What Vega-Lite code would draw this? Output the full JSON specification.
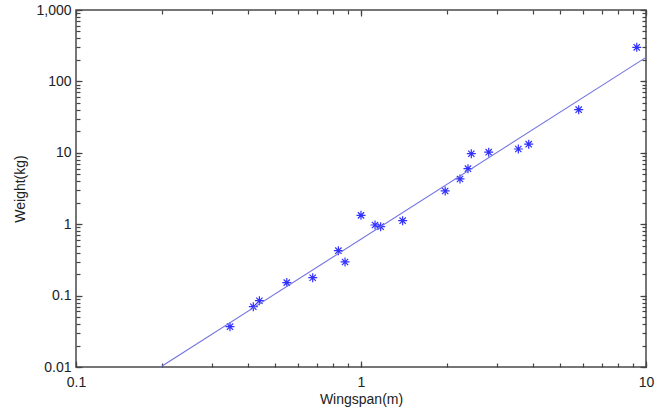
{
  "$schema": "https://vega.github.io/schema/vega-lite/v6.json",
  "width": 570,
  "height": 357,
  "autosize": "none",
  "padding": {"left": 76, "top": 10, "right": 9, "bottom": 45},
  "background": "white",
  "config": {
    "view": {"stroke": "#4a4a4a", "strokeWidth": 1.5},
    "axis": {
      "labelFont": "Liberation Sans",
      "titleFont": "Liberation Sans",
      "labelFontSize": 14,
      "titleFontSize": 14,
      "titleFontWeight": "normal",
      "labelColor": "#222222",
      "titleColor": "#222222",
      "domain": false,
      "grid": false
    }
  },
  "datasets": {
    "birds": [
      {"wingspan": 0.347, "weight": 0.0367},
      {"wingspan": 0.419, "weight": 0.0699},
      {"wingspan": 0.44, "weight": 0.0848},
      {"wingspan": 0.549, "weight": 0.152},
      {"wingspan": 0.677, "weight": 0.178},
      {"wingspan": 0.833, "weight": 0.426},
      {"wingspan": 0.879, "weight": 0.296},
      {"wingspan": 1.0, "weight": 1.33},
      {"wingspan": 1.12, "weight": 0.975},
      {"wingspan": 1.172, "weight": 0.923},
      {"wingspan": 1.4, "weight": 1.12},
      {"wingspan": 1.974, "weight": 2.92},
      {"wingspan": 2.225, "weight": 4.3},
      {"wingspan": 2.373, "weight": 5.99},
      {"wingspan": 2.438, "weight": 9.71},
      {"wingspan": 2.806, "weight": 10.2},
      {"wingspan": 3.565, "weight": 11.3},
      {"wingspan": 3.877, "weight": 13.2},
      {"wingspan": 5.805, "weight": 40.2},
      {"wingspan": 9.28, "weight": 300}
    ],
    "fit": [
      {"wingspan": 0.198, "weight": 0.01},
      {"wingspan": 10, "weight": 217}
    ]
  },
  "layer": [
    {
      "data": {"name": "birds"},
      "mark": {
        "type": "point",
        "shape": "M-1,0L1,0M0,-1L0,1M-0.7,-0.7L0.7,0.7M-0.7,0.7L0.7,-0.7",
        "filled": false,
        "stroke": "#3030ff",
        "strokeWidth": 1.2,
        "size": 81,
        "opacity": 1
      },
      "encoding": {
        "x": {
          "field": "wingspan",
          "type": "quantitative",
          "scale": {"type": "log", "domain": [0.1, 10], "nice": false},
          "axis": {
            "orient": "bottom",
            "offset": -4,
            "title": "Wingspan(m)",
            "values": [0.1, 0.2, 0.3, 0.4, 0.5, 0.6, 0.7, 0.8, 0.9, 1, 2, 3, 4, 5, 6, 7, 8, 9, 10],
            "labelExpr": "indexof([0.1, 1, 10], datum.value) >= 0 ? format(datum.value, ',~g') : ''",
            "labelOverlap": false,
            "labelFlush": false,
            "labelPadding": 8,
            "ticks": true,
            "tickColor": "#444444",
            "tickWidth": 1.2,
            "tickOpacity": 1,
            "tickSize": 4,
            "titlePadding": 3
          }
        },
        "y": {
          "field": "weight",
          "type": "quantitative",
          "scale": {"type": "log", "domain": [0.01, 1000], "nice": false},
          "axis": {
            "orient": "left",
            "offset": -4,
            "title": "Weight(kg)",
            "values": [0.01, 0.02, 0.03, 0.04, 0.05, 0.06, 0.07, 0.08, 0.09, 0.1, 0.2, 0.3, 0.4, 0.5, 0.6, 0.7, 0.8, 0.9, 1, 2, 3, 4, 5, 6, 7, 8, 9, 10, 20, 30, 40, 50, 60, 70, 80, 90, 100, 200, 300, 400, 500, 600, 700, 800, 900, 1000],
            "labelExpr": "indexof([0.01, 0.1, 1, 10, 100, 1000], datum.value) >= 0 ? format(datum.value, ',~g') : ''",
            "labelOverlap": false,
            "labelFlush": false,
            "labelPadding": 5,
            "ticks": true,
            "tickColor": "#444444",
            "tickWidth": 1.2,
            "tickOpacity": 1,
            "tickSize": 4,
            "titlePadding": 8
          }
        }
      }
    },
    {
      "data": {"name": "fit"},
      "mark": {"type": "line", "color": "#7272e0", "strokeWidth": 1.1},
      "encoding": {
        "x": {
          "field": "wingspan",
          "type": "quantitative",
          "scale": {"type": "log", "domain": [0.1, 10], "nice": false},
          "axis": {
            "orient": "top",
            "offset": -4,
            "title": null,
            "labels": false,
            "values": [0.1, 0.2, 0.3, 0.4, 0.5, 0.6, 0.7, 0.8, 0.9, 1, 2, 3, 4, 5, 6, 7, 8, 9, 10],
            "ticks": true,
            "tickColor": "#444444",
            "tickWidth": 1.2,
            "tickOpacity": 1,
            "tickSize": 4
          }
        },
        "y": {
          "field": "weight",
          "type": "quantitative",
          "scale": {"type": "log", "domain": [0.01, 1000], "nice": false},
          "axis": {
            "orient": "right",
            "offset": -4,
            "title": null,
            "labels": false,
            "values": [0.01, 0.02, 0.03, 0.04, 0.05, 0.06, 0.07, 0.08, 0.09, 0.1, 0.2, 0.3, 0.4, 0.5, 0.6, 0.7, 0.8, 0.9, 1, 2, 3, 4, 5, 6, 7, 8, 9, 10, 20, 30, 40, 50, 60, 70, 80, 90, 100, 200, 300, 400, 500, 600, 700, 800, 900, 1000],
            "ticks": true,
            "tickColor": "#444444",
            "tickWidth": 1.2,
            "tickOpacity": 1,
            "tickSize": 4
          }
        }
      }
    },
    {
      "data": {"name": "fit"},
      "mark": {"type": "point", "opacity": 0},
      "encoding": {
        "x": {
          "field": "wingspan",
          "type": "quantitative",
          "scale": {"type": "log", "domain": [0.1, 10], "nice": false},
          "axis": {"orient": "bottom", "offset": -6, "title": null, "labels": false, "values": [0.1, 1, 10], "ticks": true, "tickColor": "#444444", "tickWidth": 1.2, "tickOpacity": 1, "tickSize": 6}
        },
        "y": {
          "field": "weight",
          "type": "quantitative",
          "scale": {"type": "log", "domain": [0.01, 1000], "nice": false},
          "axis": {"orient": "left", "offset": -6, "title": null, "labels": false, "values": [0.01, 0.1, 1, 10, 100, 1000], "ticks": true, "tickColor": "#444444", "tickWidth": 1.2, "tickOpacity": 1, "tickSize": 6}
        }
      }
    },
    {
      "data": {"name": "fit"},
      "mark": {"type": "point", "opacity": 0},
      "encoding": {
        "x": {
          "field": "wingspan",
          "type": "quantitative",
          "scale": {"type": "log", "domain": [0.1, 10], "nice": false},
          "axis": {"orient": "top", "offset": -6, "title": null, "labels": false, "values": [0.1, 1, 10], "ticks": true, "tickColor": "#444444", "tickWidth": 1.2, "tickOpacity": 1, "tickSize": 6}
        },
        "y": {
          "field": "weight",
          "type": "quantitative",
          "scale": {"type": "log", "domain": [0.01, 1000], "nice": false},
          "axis": {"orient": "right", "offset": -6, "title": null, "labels": false, "values": [0.01, 0.1, 1, 10, 100, 1000], "ticks": true, "tickColor": "#444444", "tickWidth": 1.2, "tickOpacity": 1, "tickSize": 6}
        }
      }
    }
  ],
  "resolve": {"scale": {"x": "independent", "y": "independent"}}
}
